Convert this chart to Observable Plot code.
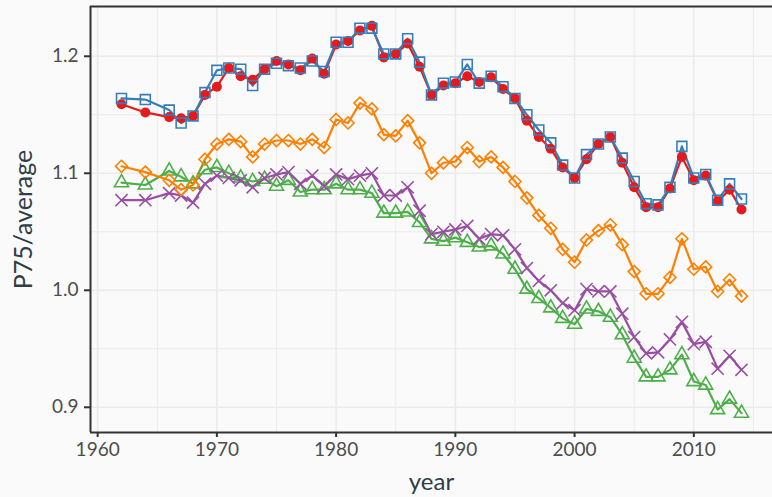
<!DOCTYPE html>
<html>
<head>
<meta charset="utf-8">
<script src="https://cdn.jsdelivr.net/npm/d3@7"></script>
<script src="https://cdn.jsdelivr.net/npm/@observablehq/plot@0.6"></script>
<style>
  html, body { margin: 0; padding: 0; background: #fafafa; }
  #chart svg { display: block; }
</style>
</head>
<body>
<div id="chart"></div>
<script>
// Years observed (1963 and 1965 are missing)
const years = [1962, 1964, 1966, 1967, 1968, 1969, 1970, 1971, 1972, 1973, 1974, 1975, 1976, 1977, 1978, 1979,
  1980, 1981, 1982, 1983, 1984, 1985, 1986, 1987, 1988, 1989, 1990, 1991, 1992, 1993, 1994, 1995, 1996, 1997, 1998,
  1999, 2000, 2001, 2002, 2003, 2004, 2005, 2006, 2007, 2008, 2009, 2010, 2011, 2012, 2013, 2014];

// P75 / average ratio, one array per series
const seriesRed = [1.159, 1.152, 1.148, 1.147, 1.149, 1.167, 1.174, 1.190, 1.183, 1.180, 1.189, 1.196, 1.193, 1.188, 1.198, 1.185,
  1.210, 1.213, 1.222, 1.226, 1.199, 1.202, 1.211, 1.191, 1.167, 1.175, 1.177, 1.183, 1.178, 1.182, 1.172, 1.164, 1.145, 1.131, 1.121,
  1.105, 1.096, 1.112, 1.125, 1.131, 1.109, 1.088, 1.071, 1.071, 1.087, 1.114, 1.094, 1.098, 1.076, 1.086, 1.069];

const seriesBlue = [1.164, 1.163, 1.154, 1.143, 1.149, 1.169, 1.188, 1.190, 1.189, 1.175, 1.189, 1.194, 1.192, 1.190, 1.196, 1.187,
  1.212, 1.212, 1.224, 1.224, 1.202, 1.202, 1.215, 1.195, 1.167, 1.177, 1.178, 1.193, 1.177, 1.183, 1.174, 1.164, 1.150, 1.137, 1.126,
  1.107, 1.096, 1.116, 1.125, 1.131, 1.113, 1.093, 1.074, 1.073, 1.088, 1.123, 1.096, 1.099, 1.077, 1.091, 1.078];

const seriesGreen = [1.092, 1.090, 1.102, 1.097, 1.091, 1.103, 1.105, 1.100, 1.096, 1.093, 1.095, 1.089, 1.094, 1.084, 1.086, 1.086,
  1.091, 1.086, 1.086, 1.083, 1.066, 1.066, 1.067, 1.058, 1.044, 1.042, 1.045, 1.041, 1.037, 1.038, 1.031, 1.018, 1.001, 0.993, 0.985,
  0.976, 0.971, 0.984, 0.982, 0.977, 0.962, 0.942, 0.926, 0.926, 0.932, 0.945, 0.922, 0.919, 0.898, 0.907, 0.895];

const seriesPurple = [1.077, 1.077, 1.083, 1.081, 1.075, 1.091, 1.098, 1.096, 1.094, 1.088, 1.096, 1.099, 1.101, 1.091, 1.098, 1.089,
  1.099, 1.095, 1.098, 1.100, 1.081, 1.081, 1.088, 1.068, 1.048, 1.050, 1.052, 1.055, 1.044, 1.048, 1.047, 1.035, 1.019, 1.008, 1.000,
  0.989, 0.983, 1.001, 0.999, 0.999, 0.980, 0.960, 0.946, 0.947, 0.958, 0.973, 0.954, 0.956, 0.933, 0.944, 0.932];

const seriesOrange = [1.106, 1.101, 1.094, 1.086, 1.090, 1.112, 1.125, 1.129, 1.127, 1.114, 1.125, 1.128, 1.128, 1.125, 1.129, 1.122,
  1.146, 1.143, 1.160, 1.155, 1.133, 1.132, 1.145, 1.126, 1.100, 1.109, 1.110, 1.122, 1.110, 1.114, 1.105, 1.093, 1.079, 1.064, 1.053,
  1.035, 1.024, 1.043, 1.051, 1.056, 1.039, 1.016, 0.997, 0.997, 1.011, 1.044, 1.018, 1.020, 0.999, 1.009, 0.995];

const xTicks = [1960, 1970, 1980, 1990, 2000, 2010];
const yTicks = [0.9, 1.0, 1.1, 1.2];
const xMinor = [1965, 1975, 1985, 1995, 2005, 2015];
const yMinor = [0.95, 1.05, 1.15];

// Series drawing order, colours and symbols
const seriesList = [
  {key: "red",    values: seriesRed,    color: "#E41A1C", symbol: "circle",   filled: true,  r: 5.0},
  {key: "blue",   values: seriesBlue,   color: "#377EB8", symbol: "square",   filled: false, r: 5.6},
  {key: "green",  values: seriesGreen,  color: "#4DAF4A", symbol: "triangle", filled: false, r: 5.2},
  {key: "purple", values: seriesPurple, color: "#984EA3", symbol: "times",    filled: false, r: 5.6},
  {key: "orange", values: seriesOrange, color: "#FF7F00", symbol: "diamond2", filled: false, r: 5.4}
];

const rows = seriesList.flatMap(s => s.values.map((v, i) => ({series: s.key, year: years[i], value: v})));

// 5% padding around the data range
function padded(extent) {
  const d = (extent[1] - extent[0]) * 0.05;
  return [extent[0] - d, extent[1] + d];
}
const xDomain = padded(d3.extent(years));
const yDomain = padded(d3.extent(rows, d => d.value));

const axisDark = "#333333";
const gridColor = "#ebebeb";
const tickText = "#4d4d4d";
const titleColor = "#2f3e46";

const marks = [
  // grid
  Plot.ruleX(xMinor, {stroke: gridColor, strokeWidth: 1}),
  Plot.ruleY(yMinor, {stroke: gridColor, strokeWidth: 1}),
  Plot.ruleX(xTicks, {stroke: gridColor, strokeWidth: 1.6}),
  Plot.ruleY(yTicks, {stroke: gridColor, strokeWidth: 1.6}),
  // lines
  ...seriesList.map(s => Plot.line(rows.filter(d => d.series === s.key), {
    x: "year", y: "value", stroke: s.color, strokeWidth: 2.2
  })),
  // points
  ...seriesList.map(s => Plot.dot(rows.filter(d => d.series === s.key), {
    x: "year", y: "value", symbol: s.symbol, r: s.r,
    fill: s.filled ? s.color : "none",
    stroke: s.filled ? "none" : s.color,
    strokeWidth: 1.6
  })),
  // panel border: left, bottom, top
  Plot.ruleX([xDomain[0]], {stroke: axisDark, strokeWidth: 2}),
  Plot.ruleY([yDomain[0]], {stroke: axisDark, strokeWidth: 2}),
  Plot.ruleY([yDomain[1]], {stroke: axisDark, strokeWidth: 2}),
  // axes
  Plot.axisX({ticks: xTicks, tickSize: 5, tickPadding: 5, strokeWidth: 2, stroke: axisDark,
    fill: tickText, fontSize: 19, label: null, tickFormat: d => String(d)}),
  Plot.axisY({ticks: yTicks, tickSize: 6, tickPadding: 6, strokeWidth: 2, stroke: axisDark,
    fill: tickText, fontSize: 19, label: null, tickFormat: d3.format(".1f")}),
  // axis titles
  Plot.text(["year"], {frameAnchor: "bottom", dy: 50, fontSize: 24, fill: titleColor,
    textAnchor: "middle", lineAnchor: "middle"}),
  Plot.text(["P75/average"], {frameAnchor: "left", dx: -67, rotate: -90, fontSize: 25, fill: titleColor,
    textAnchor: "middle", lineAnchor: "middle"})
];

const chart = Plot.plot({
  width: 772,
  height: 497,
  marginLeft: 90,
  marginRight: 0,
  marginTop: 6,
  marginBottom: 65,
  x: {domain: xDomain, axis: null},
  y: {domain: yDomain, axis: null},
  style: {background: "#fafafa", fontFamily: "Lato, sans-serif", overflow: "visible"},
  marks
});
document.getElementById("chart").appendChild(chart);
</script>
</body>
</html>
